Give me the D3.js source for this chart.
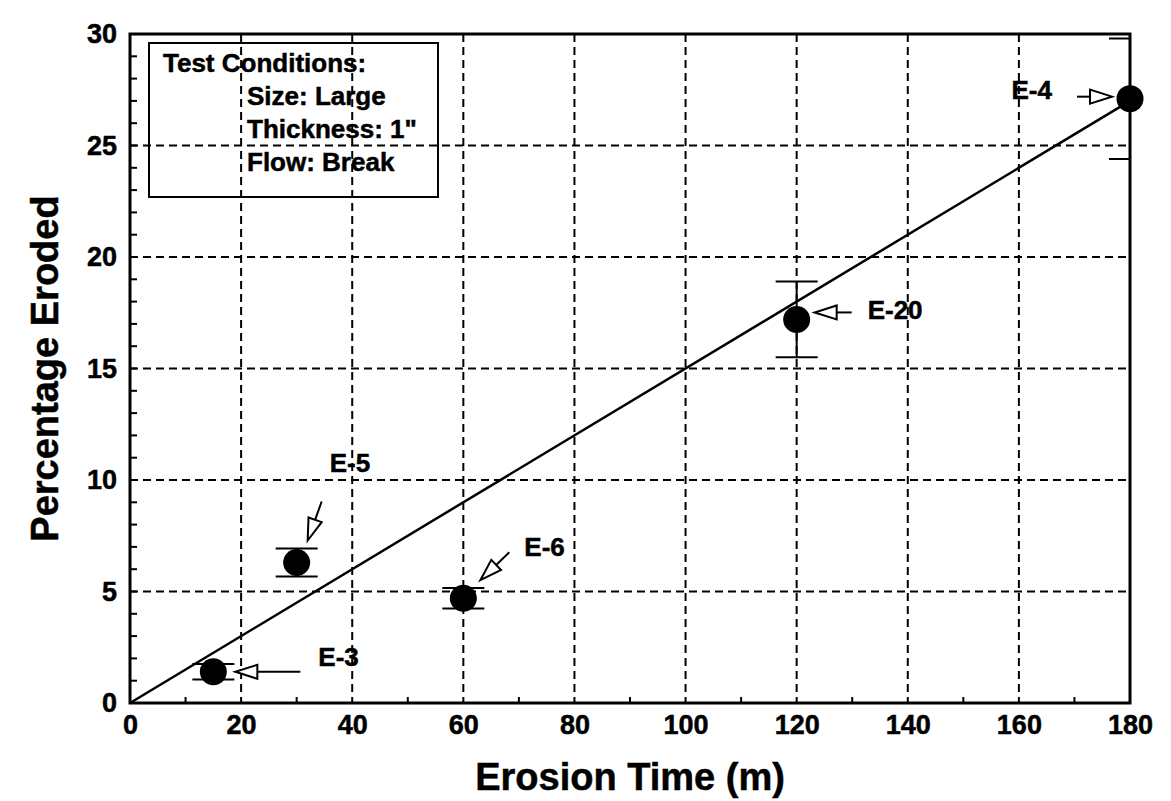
<!DOCTYPE html>
<html>
<head>
<meta charset="utf-8">
<script src="https://cdn.jsdelivr.net/npm/d3@7"></script>
<style>
  html, body { margin: 0; padding: 0; background: #fff; }
  svg { display: block; }
  text { font-family: "Liberation Sans", Arial, Helvetica, sans-serif; font-weight: bold; fill: #000;
         stroke: #000; stroke-width: 0.5px; }
</style>
</head>
<body>
<svg id="chart" width="1171" height="801"></svg>
<script>
// Erosion test results
const testIds     = ["E-3", "E-5", "E-6", "E-20", "E-4"];
const erosionTime = [15, 30, 60, 120, 180];          // minutes
const pctEroded   = [1.4, 6.3, 4.7, 17.2, 27.1];     // percent
const pctError    = [0.35, 0.63, 0.46, 1.7, 2.7];    // +/- spread

// Fitted trend line end points
const fitX = [0, 180];
const fitY = [0, 27];

// Axis ticks
const xTicks = [0, 20, 40, 60, 80, 100, 120, 140, 160, 180];
const yTicks = [0, 5, 10, 15, 20, 25, 30];

// Legend text
const legendTitle = "Test Conditions:";
const legendLines = ["Size: Large", "Thickness: 1\"", "Flow: Break"];

// Where each callout arrow sits relative to its point (pixels)
const callouts = {
  "E-3":  { tip: [22, 0],   tail: [87, 0],    label: [105, -15], anchor: "start" },
  "E-5":  { tip: [11, -22], tail: [25, -61],  label: [33, -100], anchor: "start" },
  "E-6":  { tip: [17, -18], tail: [46, -46],  label: [61, -51],  anchor: "start" },
  "E-20": { tip: [18, -7],  tail: [55, -7],   label: [71, -9],   anchor: "start" },
  "E-4":  { tip: [-18, -2], tail: [-53, -2],  label: [-78, -9],  anchor: "end" }
};

const svg = d3.select("#chart");
const margin = { top: 34, right: 41, bottom: 98, left: 130 };
const W = +svg.attr("width"), H = +svg.attr("height");
const w = W - margin.left - margin.right;
const h = H - margin.top - margin.bottom;

const x = d3.scaleLinear().domain([0, 180]).range([0, w]);
const y = d3.scaleLinear().domain([0, 30]).range([h, 0]);

const g = svg.append("g").attr("transform", `translate(${margin.left},${margin.top})`);

svg.append("defs").append("clipPath").attr("id", "plotClip")
  .append("rect").attr("x", 0).attr("y", 0).attr("width", w).attr("height", h);

// Dashed grid
const grid = g.append("g").attr("stroke", "#000").attr("stroke-width", 2)
  .attr("stroke-dasharray", "8,5").attr("fill", "none");
grid.selectAll("line.v").data(xTicks.filter(t => t > 0 && t < 180)).join("line")
  .attr("class", "v").attr("x1", d => x(d)).attr("x2", d => x(d)).attr("y1", 0).attr("y2", h);
grid.selectAll("line.h").data(yTicks.filter(t => t > 0 && t < 30)).join("line")
  .attr("class", "h").attr("y1", d => y(d)).attr("y2", d => y(d)).attr("x1", 0).attr("x2", w);

// Minor ticks pointing inward
const minor = g.append("g").attr("stroke", "#000").attr("stroke-width", 2);
minor.selectAll("line.ym").data(d3.range(1, 30)).join("line")
  .attr("class", "ym").attr("x1", 0).attr("x2", 7).attr("y1", d => y(d)).attr("y2", d => y(d));
minor.selectAll("line.xm").data(d3.range(10, 180, 20)).join("line")
  .attr("class", "xm").attr("x1", d => x(d)).attr("x2", d => x(d)).attr("y1", h).attr("y2", h - 6);

// Axes (labels only; frame drawn separately)
const xAxis = g.append("g").attr("transform", `translate(0,${h})`)
  .call(d3.axisBottom(x).tickValues(xTicks).tickSize(0).tickPadding(12));
const yAxis = g.append("g")
  .call(d3.axisLeft(y).tickValues(yTicks).tickSize(0).tickPadding(13));
[xAxis, yAxis].forEach(a => {
  a.select(".domain").remove();
  a.selectAll("text").style("font-family", "'Liberation Sans', Arial, sans-serif")
    .style("font-weight", "bold").style("font-size", "27px").attr("fill", "#000")
    .attr("stroke", "#000").attr("stroke-width", 0.5);
});

// Plot frame
g.append("rect").attr("x", 0).attr("y", 0).attr("width", w).attr("height", h)
  .attr("fill", "none").attr("stroke", "#000").attr("stroke-width", 3);

// Axis titles
svg.append("text").attr("x", margin.left + w / 2).attr("y", H - 11)
  .attr("text-anchor", "middle").style("font-size", "38px").text("Erosion Time (m)");
svg.append("text")
  .attr("transform", `translate(58,${margin.top + h / 2}) rotate(-90)`)
  .attr("text-anchor", "middle").style("font-size", "38px").text("Percentage Eroded");

// Legend box
const leg = g.append("g");
leg.append("rect").attr("x", 19).attr("y", 9).attr("width", 289).attr("height", 154)
  .attr("fill", "none").attr("stroke", "#000").attr("stroke-width", 2);
leg.append("text").attr("x", 33).attr("y", 38).style("font-size", "26px").text(legendTitle);
leg.selectAll("text.item").data(legendLines).join("text").attr("class", "item")
  .attr("x", 117).attr("y", (d, i) => 71 + i * 33).style("font-size", "26px").text(d => d);

// Trend line
g.append("line").attr("x1", x(fitX[0])).attr("y1", y(fitY[0]))
  .attr("x2", x(fitX[1])).attr("y2", y(fitY[1]))
  .attr("stroke", "#000").attr("stroke-width", 2.5);

// Data: error bars (clipped to plot) and markers
const pts = testIds.map((id, i) => ({ id, t: erosionTime[i], p: pctEroded[i], e: pctError[i] }));
const eb = g.append("g").attr("clip-path", "url(#plotClip)").attr("stroke", "#000").attr("stroke-width", 2);
eb.selectAll("line.stem").data(pts).join("line").attr("class", "stem")
  .attr("x1", d => x(d.t)).attr("x2", d => x(d.t))
  .attr("y1", d => y(d.p + d.e)).attr("y2", d => y(d.p - d.e));
eb.selectAll("line.capT").data(pts).join("line").attr("class", "capT")
  .attr("x1", d => x(d.t) - 21).attr("x2", d => x(d.t) + 21)
  .attr("y1", d => y(d.p + d.e)).attr("y2", d => y(d.p + d.e));
eb.selectAll("line.capB").data(pts).join("line").attr("class", "capB")
  .attr("x1", d => x(d.t) - 21).attr("x2", d => x(d.t) + 21)
  .attr("y1", d => y(d.p - d.e)).attr("y2", d => y(d.p - d.e));

g.selectAll("circle.pt").data(pts).join("circle").attr("class", "pt")
  .attr("cx", d => x(d.t)).attr("cy", d => y(d.p)).attr("r", 13.5).attr("fill", "#000");

// Callout arrows with open heads
const ann = g.append("g");
pts.forEach(d => {
  const c = callouts[d.id];
  const px = x(d.t), py = y(d.p);
  const tip = [px + c.tip[0], py + c.tip[1]];
  const tail = [px + c.tail[0], py + c.tail[1]];
  const ang = Math.atan2(tail[1] - tip[1], tail[0] - tip[0]);
  const L = 22, hw = 7;
  const base = [tip[0] + L * Math.cos(ang), tip[1] + L * Math.sin(ang)];
  const nx = -Math.sin(ang), ny = Math.cos(ang);
  ann.append("line").attr("x1", base[0]).attr("y1", base[1]).attr("x2", tail[0]).attr("y2", tail[1])
    .attr("stroke", "#000").attr("stroke-width", 2);
  ann.append("path")
    .attr("d", `M${tip[0]},${tip[1]}L${base[0] + nx * hw},${base[1] + ny * hw}L${base[0] - nx * hw},${base[1] - ny * hw}Z`)
    .attr("fill", "#fff").attr("stroke", "#000").attr("stroke-width", 2).attr("stroke-linejoin", "miter");
  ann.append("text").attr("x", px + c.label[0]).attr("y", py + c.label[1])
    .attr("text-anchor", c.anchor).attr("dominant-baseline", "central")
    .style("font-size", "26px").text(d.id);
});
</script>
</body>
</html>
